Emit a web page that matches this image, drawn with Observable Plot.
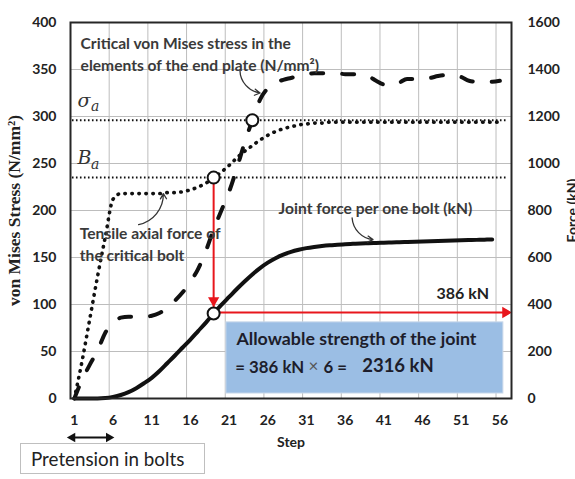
<!DOCTYPE html>
<html><head><meta charset="utf-8">
<script src="https://cdn.jsdelivr.net/npm/d3@7"></script>
<script src="https://cdn.jsdelivr.net/npm/@observablehq/plot@0.6"></script>
<style>
body{margin:0;background:#fff;}
#wrap{position:relative;width:575px;height:479px;overflow:hidden;}
#pre{position:absolute;left:20px;top:443px;width:185px;height:31px;border:1px solid #bfbfbf;box-sizing:border-box;font-family:Lato, sans-serif;font-size:18.8px;color:#222;line-height:29px;padding-left:10px;background:#fff;white-space:nowrap}
</style></head><body><div id="wrap"><div id="chart"></div><div id="pre">Pretension in bolts</div></div>
<script>
// ---- data ----
const xTicks = [1, 6, 11, 16, 21, 26, 31, 36, 41, 46, 51, 56];
const leftTicks = [0, 50, 100, 150, 200, 250, 300, 350, 400];
const rightTicks = [0, 200, 400, 600, 800, 1000, 1200, 1400, 1600];
// von Mises stress of critical end-plate element (N/mm2), steps 1..56
const plateStress = [0,20,36,51,70,80,86,87,87,87,88,91,96,104,113,124,138,157,180,200,220,245,272,296,318,330,336,339,341,343,345,346,346,346,346,345,345,345,343,338,334,333,336,340,340,340,341,343,344,344,342,338,337,337,337,338];
// tensile axial force of critical bolt (plotted on stress axis), steps 1..56
const boltForce = [0,40,85,130,172,212,218,218,218,218,218,218,219,219,220,222,225,229,235,241,248,256,263,269,275,280,284,287,289,291,292,293,293,294,294,294,294,294,294,294,294,294,294,294,294,294,294,294,294,294,294,294,294,294,294,294];
// joint force per one bolt (kN), steps 1..55
const jointForce = [0,0,0,0,2,7,15,27,44,65,88,117,150,183,217,251,287,323,362,398,432,466,498,528,555,578,597,612,624,633,640,645,649,652,654,656,658,660,661,662,663,664,665,666,667,668,669,670,671,672,673,674,675,676,677];
const sigmaA = 296, Ba = 235;
const kNRatio = 4; // right axis kN per left axis N/mm2
const allowableStep = 19, yieldStep = 24, allowableKN = 366;

const toRows = arr => arr.map((v, i) => ({step: i + 1, v}));
const plateRows = toRows(plateStress), boltRows = toRows(boltForce), jointRows = toRows(jointForce);

// ---- annotations (data coordinates: step, N/mm2) ----
const labelFont = "Lato, sans-serif";
const textAnnos = [
  {x: 1.8, y: 377.5, t: "Critical von Mises stress in the"},
  {x: 1.8, y: 354, t: "elements of the end plate (N/mm²)"},
  {x: 1.7, y: 175.5, t: "Tensile axial force of"},
  {x: 1.7, y: 151.5, t: "the critical bolt"},
  {x: 27.4, y: 202, t: "Joint force per one bolt (kN)"}
];
const curvedArrows = [
  {x1: 22.4, y1: 349, x2: 25.0, y2: 325},
  {x1: 9.3, y1: 185, x2: 12.5, y2: 218},
  {x1: 36.9, y1: 192, x2: 39.6, y2: 169}
];
const boxAnno = {x1: 20.65, x2: 56.45, y1: 5.3, y2: 81};

const W = 575, H = 479;
const chart = Plot.plot({
  width: W, height: H,
  marginLeft: 70, marginRight: 64, marginTop: 22, marginBottom: 81,
  style: {fontFamily: labelFont, fontSize: "14px", fontWeight: "bold", color: "#222", overflow: "visible", background: "#fff"},
  x: {domain: [0.5, 57.5]},
  y: {domain: [0, 400]},
  marks: [
    Plot.gridX(d3.range(5.5, 57, 5), {stroke: "#bdbdbd", strokeOpacity: 1}),
    Plot.gridY(leftTicks.slice(1, -1), {stroke: "#bdbdbd", strokeOpacity: 1}),
    Plot.ruleY([sigmaA, Ba], {x1: 0.75, x2: 57.1, stroke: "#111", strokeWidth: 2, strokeDasharray: "1.6,2.4"}),
    Plot.text(["σ", "B"], {x: 1.4, y: [sigmaA + 21, Ba + 21], text: d => d, textAnchor: "start", fontFamily: "DejaVu Serif", fontStyle: "italic", fontWeight: "normal", fontSize: 19, fill: "#333"}),
    Plot.text(["a", "a"], {x: 3.15, y: [sigmaA + 15, Ba + 14], text: d => d, textAnchor: "start", fontFamily: "DejaVu Serif", fontStyle: "italic", fontWeight: "normal", fontSize: 14, fill: "#333"}),
    // blue box
    Plot.rect([boxAnno], {x1: "x1", x2: "x2", y1: "y1", y2: "y2", fill: "#9bbee4", stroke: "#c9d8ea", strokeWidth: 1}),
    Plot.text([{x: 21.95, y: 62.8, t: "Allowable strength of the joint"}],
      {x: "x", y: "y", text: "t", textAnchor: "start", fontSize: 17.8, fill: "#1d1d2b"}),
    Plot.text([{x: 21.8, y: 33, t: "= 386 kN"}, {x: 33.2, y: 33, t: "6 ="}],
      {x: "x", y: "y", text: "t", textAnchor: "start", fontSize: 16.8, fill: "#1d1d2b"}),
    Plot.text([{x: 31.9, y: 34, t: "×"}], {x: "x", y: "y", text: "t", fontSize: 17, fontWeight: "normal", fill: "#555"}),
    Plot.text([{x: 38.2, y: 34, t: "2316 kN"}], {x: "x", y: "y", text: "t", textAnchor: "start", fontSize: 18.5, fill: "#1d1d2b"}),
    // series
    Plot.line(boltRows, {x: "step", y: "v", stroke: "#111", strokeWidth: 3.6, strokeDasharray: "0.5,6.5", strokeLinecap: "round", curve: "monotone-x"}),
    Plot.line(plateRows, {x: "step", y: "v", stroke: "#111", strokeWidth: 4, strokeDasharray: "12,19", strokeLinecap: "round", curve: "monotone-x"}),
    Plot.line(jointRows, {x: "step", y: d => d.v / kNRatio, stroke: "#111", strokeWidth: 4, curve: "monotone-x"}),
    // red arrows
    Plot.link([{x1: allowableStep, y1: Ba, x2: allowableStep, y2: allowableKN / kNRatio}], {x1: "x1", y1: "y1", x2: "x2", y2: "y2", stroke: "#e8161c", strokeWidth: 2}),
    Plot.link([{x1: allowableStep, y1: allowableKN / kNRatio, x2: 57.3, y2: allowableKN / kNRatio}], {x1: "x1", y1: "y1", x2: "x2", y2: "y2", stroke: "#e8161c", strokeWidth: 2}),
    Plot.dot([{x: allowableStep, y: allowableKN / kNRatio}], {x: "x", y: "y", symbol: "triangle", r: 4.2, fill: "#e8161c", rotate: 180, dy: -12}),
    Plot.dot([{x: 57.5, y: allowableKN / kNRatio}], {x: "x", y: "y", symbol: "triangle", r: 4.2, fill: "#e8161c", rotate: 90, dx: -6}),
    Plot.text([{x: 47.8, y: 111.7, t: "386 kN"}], {x: "x", y: "y", text: "t", textAnchor: "start", fontSize: 16, fill: "#222"}),
    // marker circles
    Plot.dot([{x: allowableStep, y: Ba}, {x: yieldStep, y: plateStress[yieldStep - 1]}, {x: allowableStep, y: jointForce[allowableStep - 1] / kNRatio}],
      {x: "x", y: "y", r: 6, fill: "#fff", stroke: "#111", strokeWidth: 2}),
    // annotation labels & arrows
    Plot.text(textAnnos, {x: "x", y: "y", text: "t", textAnchor: "start", fontSize: 15.6, fill: "#3a3a3a"}),
    Plot.arrow(curvedArrows, {x1: "x1", y1: "y1", x2: "x2", y2: "y2", bend: -40, stroke: "#333", strokeWidth: 1.3, headLength: 7}),
    // pretension double arrow below axis
    Plot.link([{x1: 1.0, x2: 5.2, y: -41.5}], {x1: "x1", x2: "x2", y1: "y", y2: "y", stroke: "#111", strokeWidth: 2}),
    Plot.dot([{x: 0.75, y: -41.5, r: -90}, {x: 5.45, y: -41.5, r: 90}], {x: "x", y: "y", rotate: "r", symbol: "triangle", r: 3.6, fill: "#111"}),
    // frame and axes
    Plot.frame({stroke: "#262626", strokeWidth: 2}),
    Plot.axisX(xTicks, {tickSize: 0, tickPadding: 17, fontSize: 14, fontWeight: "bold", label: null}),
    Plot.axisY(leftTicks, {anchor: "left", tickSize: 0, tickPadding: 14, fontSize: 14, fontWeight: "bold", label: null}),
    Plot.axisY(rightTicks.map(v => v / kNRatio), {anchor: "right", tickSize: 0, tickPadding: 16, tickFormat: d => String(d * kNRatio), fontSize: 14, fontWeight: "bold", label: null}),
    Plot.text(["Step"], {frameAnchor: "bottom", dy: 48, text: d => d, fontSize: 14, fontWeight: "bold", fill: "#222"}),
    Plot.text(["von Mises Stress (N/mm²)"], {frameAnchor: "left", textAnchor: "middle", dx: -56, rotate: -90, text: d => d, fontFamily: "Liberation Serif", fontSize: 17.5, fontWeight: "bold", fill: "#222"}),
    Plot.text(["Force (kN)"], {frameAnchor: "right", textAnchor: "middle", dx: 61, rotate: -90, text: d => d, fontSize: 14, fontWeight: "bold", fill: "#222"})
  ]
});
document.getElementById("chart").appendChild(chart);
</script>
</body></html>
